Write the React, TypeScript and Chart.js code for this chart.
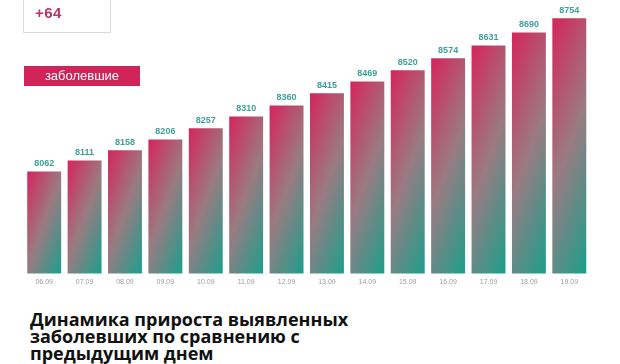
import React, { useEffect, useRef } from "react";
import { Chart, registerables } from "chart.js";

Chart.register(...registerables);

const DATES = ["06.09", "07.09", "08.09", "09.09", "10.09", "11.09", "12.09", "13.09", "14.09", "15.09", "16.09", "17.09", "18.09", "19.09"];
const CASES = [8062, 8111, 8158, 8206, 8257, 8310, 8360, 8415, 8469, 8520, 8574, 8631, 8690, 8754];
const INCREASE = "+64";
const SERIES_LABEL = "заболевшие";
const TITLE_LINES = ["Динамика прироста выявленных", "заболевших по сравнению с", "предыдущим днем"];

const PINK = "#d6245d";
const MID = "#9a7b82";
const TEAL = "#1b9f8c";
const BAR_PCT = 0.84;

const valueLabels = {
  id: "valueLabels",
  afterDatasetsDraw(chart: any) {
    const ctx = chart.ctx;
    const meta = chart.getDatasetMeta(0);
    ctx.save();
    ctx.font = "bold 9px 'Liberation Sans', Arial, sans-serif";
    ctx.fillStyle = "#3f9f9a";
    ctx.textAlign = "center";
    ctx.textBaseline = "middle";
    meta.data.forEach((el: any, i: number) => {
      ctx.fillText(String(CASES[i]), el.x, el.y - 8);
    });
    ctx.restore();
  },
};

function barFill(c: any) {
  const chart = c.chart;
  const { ctx, chartArea, scales } = chart;
  if (!chartArea || c.type !== "data" || !scales.x || !scales.y) return PINK;
  const xs = scales.x;
  const ys = scales.y;
  const cx = xs.getPixelForValue(c.dataIndex);
  const w = (xs.width / DATES.length) * BAR_PCT;
  const top = ys.getPixelForValue(c.raw);
  const bottom = ys.getPixelForValue(ys.min);
  const h = bottom - top;
  const ux = 0.935;
  const uy = 0.353;
  const x0 = cx - w / 2;
  const D = ux * w + uy * h;
  const g = ctx.createLinearGradient(x0, top, x0 + D * ux, top + D * uy);
  g.addColorStop(0, PINK);
  g.addColorStop(0.5, MID);
  g.addColorStop(1, TEAL);
  return g;
}

export default function App() {
  const ref = useRef<HTMLCanvasElement | null>(null);
  useEffect(() => {
    if (!ref.current) return;
    const chart = new Chart(ref.current, {
      type: "bar",
      data: {
        labels: DATES,
        datasets: [
          {
            data: CASES,
            backgroundColor: barFill as any,
            borderWidth: 0,
            barPercentage: BAR_PCT,
            categoryPercentage: 1,
          },
        ],
      },
      options: {
        responsive: false,
        animation: false,
        devicePixelRatio: 1,
        layout: { padding: { left: 24, right: 30.5, top: 8.2, bottom: 10 } },
        plugins: { legend: { display: false }, tooltip: { enabled: false } },
        scales: {
          x: {
            grid: { display: false, drawTicks: false },
            border: { display: false },
            ticks: {
              color: "#9c9c9c",
              font: { size: 7, family: "'Liberation Sans', Arial, sans-serif" },
              padding: 4,
              maxRotation: 0,
              autoSkip: false,
            },
          },
          y: { display: false, min: 7600, max: 8800 },
        },
      },
      plugins: [valueLabels],
    });
    return () => chart.destroy();
  }, []);

  return (
    <div style={{ position: "absolute", left: 0, top: 0, width: 620, height: 364, overflow: "hidden", background: "#fff" }}>
      <canvas ref={ref} width={620} height={300} style={{ position: "absolute", left: 0, top: 0 }} />
      <div style={{ position: "absolute", left: 23, top: -10, width: 86, height: 41, border: "1px solid #dcdcdc" }} />
      <div
        style={{
          position: "absolute",
          left: 35,
          top: 5,
          font: "bold 15px 'Liberation Sans', Arial, sans-serif",
          lineHeight: "15px",
          color: "#b8336c",
          letterSpacing: "0.5px",
        }}
      >
        {INCREASE}
      </div>
      <div
        style={{
          position: "absolute",
          left: 24,
          top: 66,
          width: 116,
          height: 20,
          background: "#d1245b",
          color: "#fff",
          font: "13px 'Liberation Sans', Arial, sans-serif",
          lineHeight: "20px",
          textAlign: "center",
        }}
      >
        {SERIES_LABEL}
      </div>
      <div
        style={{
          position: "absolute",
          left: 30,
          top: 311,
          font: "bold 18px 'Open Sans', sans-serif",
          lineHeight: "17px",
          color: "#111",
          whiteSpace: "nowrap",
        }}
      >
        {TITLE_LINES.map((l) => (
          <div key={l}>{l}</div>
        ))}
      </div>
    </div>
  );
}
